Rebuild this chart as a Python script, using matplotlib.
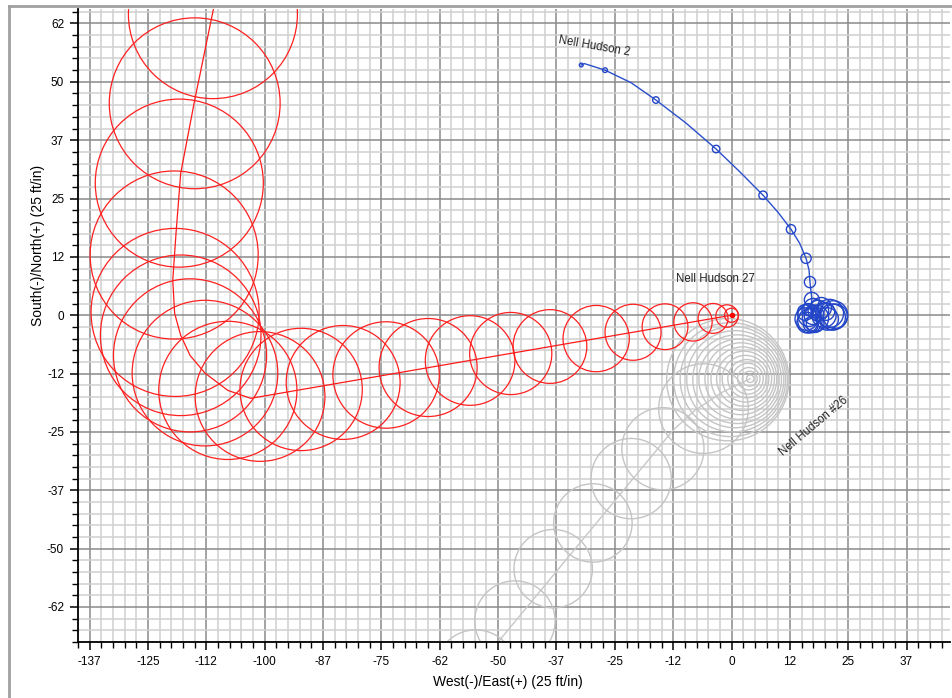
import matplotlib
matplotlib.use("Agg")
import matplotlib.pyplot as plt
from matplotlib.ticker import MultipleLocator, FuncFormatter
from matplotlib.patches import Circle
from matplotlib.lines import Line2D

plt.rcParams['font.family'] = ['Liberation Sans', 'DejaVu Sans']

# ---------------- data ----------------
# Nell Hudson 27 (red) well path
red_path_x = [0.0, -103.0, -107.9, -112.8, -116.0, -118.0, -119.3, -119.7, -119.0, -118.0, -115.0, -110.9, -107.5]
red_path_y = [0.0, -17.8, -16.1, -12.4, -8.6, -4.3, 0.4, 7.5, 17.6, 30.4, 46.1, 66.0, 84.0]
# red uncertainty circles (centre x, centre y, radius)
red_cx = [0.0, -0.96, -3.96, -8.25, -14.25, -21.1, -29.0, -38.9, -47.3, -56.0, -65.0, -74.0, -83.2, -92.2, -101.0,
          -107.9, -112.8, -116.0, -118.0, -119.2, -119.4, -118.3, -115.0, -111.1, -107.5]
red_cy = [0.0, -0.17, -0.68, -1.43, -2.46, -3.65, -5.0, -6.7, -8.2, -9.7, -11.2, -12.8, -14.4, -15.9, -17.4,
          -16.1, -12.4, -8.6, -4.3, 0.6, 12.9, 28.3, 45.4, 64.5, 84.0]
red_r = [1.5, 2.4, 3.2, 4.1, 4.9, 6.0, 7.1, 7.9, 8.8, 9.6, 10.5, 11.4, 12.2, 13.1, 13.9,
         14.8, 15.6, 16.4, 17.2, 18.0, 18.0, 18.0, 18.3, 18.1, 18.0]

# Nell Hudson 2 (blue) well path
blue_path_x = [-32.2, -31.5, -27.1, -21.5, -16.2, -9.8, -3.3, 1.8, 6.75, 10.0, 12.75, 14.6, 15.96, 16.6, 16.8, 17.2, 17.0, 17.5]
blue_path_y = [53.6, 53.9, 52.5, 49.8, 46.1, 41.2, 35.6, 30.7, 25.7, 22.0, 18.4, 15.4, 12.2, 9.7, 7.1, 3.5, 1.0, -0.5]
blue_cx = [-32.2, -27.1, -16.2, -3.3, 6.75, 12.75, 15.96, 16.8, 17.2, 17.5, 16.6, 16.8, 18.0, 19.8, 21.0,
           21.6, 16.2, 18.6, 17.4, 20.5, 21.8, 16.0, 17.9, 19.2, 15.8, 17.0, 20.2, 22.2, 18.4, 16.4]
blue_cy = [53.6, 52.5, 46.1, 35.6, 25.7, 18.4, 12.2, 7.1, 3.3, 1.6, 0.0, -1.2, -0.6, 0.0, 0.4,
           -0.4, -1.6, 1.0, -0.2, -0.8, 0.0, -0.8, -1.8, 1.6, 0.6, -2.0, 0.8, -0.2, 0.2, 1.2]
blue_r = [0.4, 0.5, 0.7, 0.8, 0.9, 1.0, 1.1, 1.2, 1.6, 2.0, 2.4, 2.6, 2.8, 2.6, 3.0,
          2.8, 2.2, 2.2, 1.8, 2.4, 3.1, 2.4, 1.9, 2.2, 1.7, 1.6, 1.9, 2.6, 1.4, 1.3]

# Nell Hudson #26 (grey) well path
grey_path_x = [4.0, -2.0, -8.0, -12.5, -50.0, -60.0]
grey_path_y = [-13.6, -16.5, -20.5, -24.6, -70.0, -82.0]
grey_cx = [4.0, 3.9, 3.7, 3.5, 3.3, 3.0, 2.7, 2.4, 2.0, 1.6, 1.2, 0.8, 0.3, -0.2, -0.8,
           -6.0, -14.7, -21.5, -29.7, -38.2, -46.4, -54.8]
grey_cy = [-13.6, -13.6, -13.6, -13.6, -13.6, -13.6, -13.6, -13.6, -13.6, -13.7, -13.7, -13.7, -13.7, -13.8, -13.8,
           -20.0, -28.6, -35.0, -44.5, -54.3, -65.5, -76.0]
grey_r = [0.8, 1.6, 2.4, 3.3, 4.1, 5.0, 5.9, 6.8, 7.7, 8.6, 9.5, 10.4, 11.3, 12.2, 13.1,
          9.6, 8.8, 8.6, 8.4, 8.4, 8.6, 8.6]

well_names = ["Nell Hudson 27", "Nell Hudson 2", "Nell Hudson #26"]

# ---------------- figure ----------------
W, H = 952, 698
fig = plt.figure(figsize=(W / 100, H / 100), dpi=100)
ax = fig.add_axes([78 / W, 1 - 642 / H, (950 - 78) / W, (642 - 9) / H])
ax.set_xlim(-140, 46.8)
ax.set_ylim(-70, 65.6)

ax.xaxis.set_major_locator(MultipleLocator(12.5))
ax.yaxis.set_major_locator(MultipleLocator(12.5))
ax.xaxis.set_minor_locator(MultipleLocator(2.5))
ax.yaxis.set_minor_locator(MultipleLocator(2.5))
fmt = FuncFormatter(lambda v, p: str(int(v)))
ax.xaxis.set_major_formatter(fmt)
ax.yaxis.set_major_formatter(fmt)

ax.grid(which='minor', color='#d0d0d0', linewidth=1.1, zorder=0)
ax.grid(which='major', color='#8a8a8a', linewidth=1.1, zorder=0.5)
ax.set_axisbelow(True)

for s in ['top', 'right']:
    ax.spines[s].set_visible(False)
for s in ['left', 'bottom']:
    ax.spines[s].set_color('black')
    ax.spines[s].set_linewidth(1.3)
ax.tick_params(which='major', direction='out', length=6, width=1.1, labelsize=8.5, pad=4, colors='black')
ax.tick_params(which='minor', direction='out', length=4, width=1.0, colors='black')

# red well
ax.plot(red_path_x, red_path_y, color='#ff1a1a', lw=0.9, zorder=3)
for x, y, r in zip(red_cx, red_cy, red_r):
    ax.add_patch(Circle((x, y), r, fill=False, edgecolor='#ff2020', lw=0.9, zorder=3))
ax.plot([0], [0], marker='o', ms=3, color='#ff0000', zorder=4)

# grey well
ax.plot(grey_path_x, grey_path_y, color='#c8c8c8', lw=1.0, zorder=2)
for x, y, r in zip(grey_cx, grey_cy, grey_r):
    ax.add_patch(Circle((x, y), r, fill=False, edgecolor='#c4c4c4', lw=1.0, zorder=2))

# blue well
ax.plot(blue_path_x, blue_path_y, color='#2a4fcc', lw=1.0, zorder=4)
for x, y, r in zip(blue_cx, blue_cy, blue_r):
    ax.add_patch(Circle((x, y), r, fill=False, edgecolor='#2346c8', lw=1.0, zorder=4))

# labels
ax.text(-11.9, 6.5, well_names[0], fontsize=8.3, color='#222222', ha='left', va='bottom', zorder=6)
ax.text(-37.2, 57.6, well_names[1], fontsize=8.3, color='#222222', ha='left', va='bottom',
        rotation=-10, rotation_mode='anchor', zorder=6)
ax.text(11.4, -30.6, well_names[2], fontsize=8.3, color='#222222', ha='left', va='bottom',
        rotation=40, rotation_mode='anchor', zorder=6)

fig.text(508 / W, 1 - 682 / H, "West(-)/East(+) (25 ft/in)", fontsize=10,
         ha='center', va='center')
fig.text(38 / W, 1 - 245 / H, "South(-)/North(+) (25 ft/in)", fontsize=10, rotation=90,
         ha='center', va='center')

# window frame
fig.add_artist(Line2D([9 / W, 9 / W], [0, 1 - 6 / H], transform=fig.transFigure, color='#a0a0a0', lw=2))
fig.add_artist(Line2D([9 / W, 1], [1 - 6 / H, 1 - 6 / H], transform=fig.transFigure, color='#a0a0a0', lw=2))

fig.savefig("out.png", dpi=100)
